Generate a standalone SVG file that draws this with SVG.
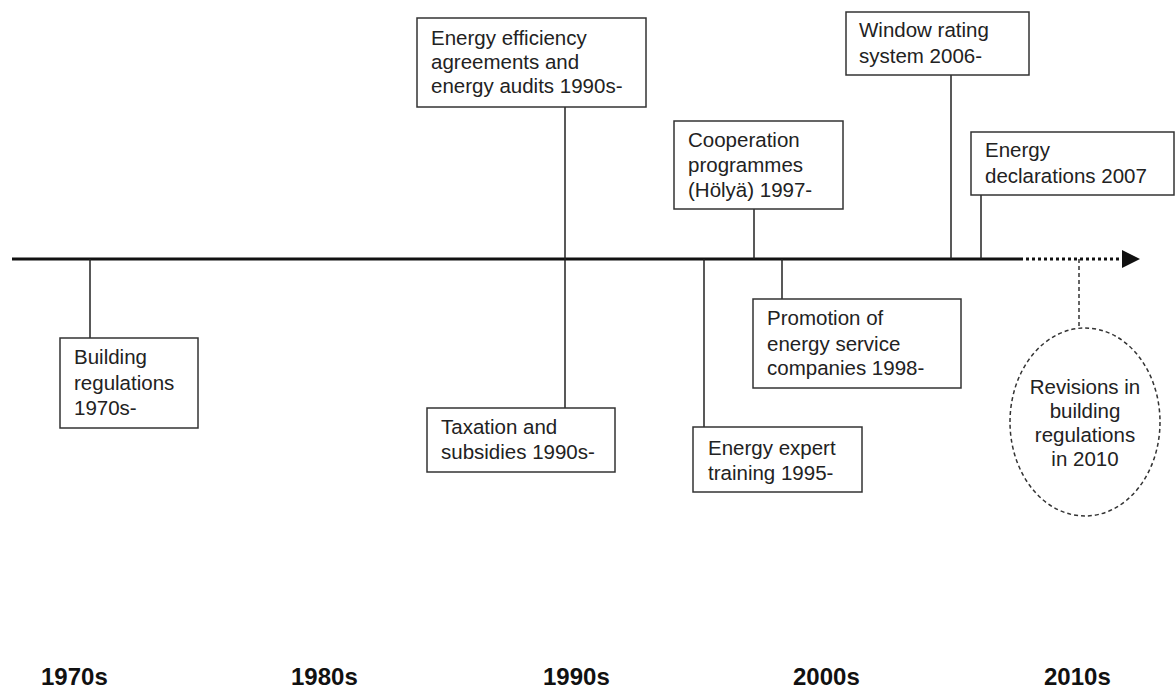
<svg xmlns="http://www.w3.org/2000/svg" width="1176" height="688" viewBox="0 0 1176 688">
<style>
.box{fill:#fff;stroke:#333;stroke-width:1.5}
.t{font-family:"Liberation Sans",Arial,sans-serif;font-size:20.5px;fill:#222}
.c{text-anchor:middle}
.dec{font-family:"Liberation Sans",Arial,sans-serif;font-size:24px;font-weight:bold;fill:#111}
.link{stroke:#222;stroke-width:1.5;fill:none}
.dash{stroke:#333;stroke-width:1.5;fill:none;stroke-dasharray:4 3}
</style>
<rect width="1176" height="688" fill="#fff"/>
<g id="connectors">
<line x1="12" y1="259" x2="1020" y2="259" stroke="#111" stroke-width="3"/>
<line x1="1020" y1="259" x2="1122" y2="259" stroke="#111" stroke-width="3" stroke-dasharray="3 3"/>
<polygon points="1122,250 1140,259 1122,268" fill="#111"/>
<line class="link" x1="90" y1="259" x2="90" y2="338"/>
<line class="link" x1="565" y1="107" x2="565" y2="408"/>
<line class="link" x1="754" y1="209" x2="754" y2="259"/>
<line class="link" x1="704" y1="259" x2="704" y2="427"/>
<line class="link" x1="782" y1="259" x2="782" y2="299"/>
<line class="link" x1="951" y1="75" x2="951" y2="259"/>
<line class="link" x1="981" y1="195" x2="981" y2="259"/>
<line class="dash" x1="1079" y1="259" x2="1079" y2="328"/>
</g>
<g id="building-regulations">
<rect class="box" x="60" y="338" width="138" height="90"/>
<text class="t" x="74" y="364">Building</text>
<text class="t" x="74" y="390">regulations</text>
<text class="t" x="74" y="415">1970s-</text>
</g>
<g id="energy-efficiency">
<rect class="box" x="417" y="18" width="229" height="89"/>
<text class="t" x="431" y="45">Energy efficiency</text>
<text class="t" x="431" y="69">agreements and</text>
<text class="t" x="431" y="93">energy audits 1990s-</text>
</g>
<g id="taxation">
<rect class="box" x="427" y="408" width="188" height="64"/>
<text class="t" x="441" y="434">Taxation and</text>
<text class="t" x="441" y="459">subsidies 1990s-</text>
</g>
<g id="cooperation">
<rect class="box" x="674" y="121" width="169" height="88"/>
<text class="t" x="688" y="147">Cooperation</text>
<text class="t" x="688" y="172">programmes</text>
<text class="t" x="688" y="197">(Hölyä) 1997-</text>
</g>
<g id="energy-expert">
<rect class="box" x="693" y="427" width="169" height="65"/>
<text class="t" x="708" y="455">Energy expert</text>
<text class="t" x="708" y="480">training 1995-</text>
</g>
<g id="promotion">
<rect class="box" x="753" y="299" width="208" height="89"/>
<text class="t" x="767" y="325">Promotion of</text>
<text class="t" x="767" y="351">energy service</text>
<text class="t" x="767" y="375">companies 1998-</text>
</g>
<g id="window-rating">
<rect class="box" x="846" y="12" width="183" height="63"/>
<text class="t" x="859" y="37">Window rating</text>
<text class="t" x="859" y="63">system 2006-</text>
</g>
<g id="energy-declarations">
<rect class="box" x="971" y="132" width="203" height="63"/>
<text class="t" x="985" y="157">Energy</text>
<text class="t" x="985" y="183">declarations 2007</text>
</g>
<g id="revisions">
<ellipse class="dash" cx="1085" cy="422" rx="75" ry="94"/>
<text class="t c" x="1085" y="394">Revisions in</text>
<text class="t c" x="1085" y="418">building</text>
<text class="t c" x="1085" y="442">regulations</text>
<text class="t c" x="1085" y="466">in 2010</text>
</g>
<g id="decades">
<text class="dec" x="41" y="685">1970s</text>
<text class="dec" x="291" y="685">1980s</text>
<text class="dec" x="543" y="685">1990s</text>
<text class="dec" x="793" y="685">2000s</text>
<text class="dec" x="1044" y="685">2010s</text>
</g>
</svg>
